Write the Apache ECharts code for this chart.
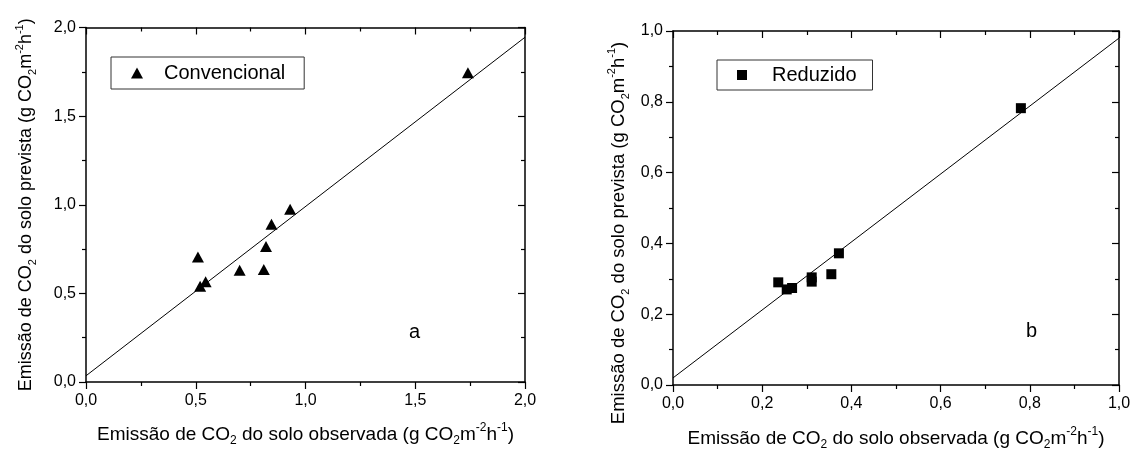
<!DOCTYPE html>
<html>
<head>
<meta charset="utf-8">
<script src="https://cdn.jsdelivr.net/npm/echarts@6/dist/echarts.min.js"></script>
<style>
html,body{margin:0;padding:0;background:#fff;}
#chart{width:1134px;height:456px;}
</style>
</head>
<body>
<div id="chart"></div>
<script>
// ---- data ----
const convObs  = [0.51, 0.52, 0.545, 0.70, 0.81, 0.82, 0.845, 0.93, 1.74];
const convPred = [0.705, 0.54, 0.565, 0.63, 0.635, 0.765, 0.89, 0.975, 1.745];
const convFitX = [0, 2];
const convFitY = [0.035, 1.945];

const redObs  = [0.236, 0.255, 0.267, 0.311, 0.311, 0.355, 0.372, 0.78];
const redPred = [0.29, 0.27, 0.274, 0.304, 0.292, 0.313, 0.372, 0.782];
const redFitX = [0, 1];
const redFitY = [0.02, 0.98];

const seriesNames = ['Convencional', 'Reduzido'];
const panelLetters = ['a', 'b'];
const xTitle = '{n|Emissão de CO}{sub|2}{n| do solo observada (g CO}{sub|2}{n|m}{sup|-2}{n|h}{sup|-1}{n|)}';
const yTitle = '{n|Emissão de CO}{sub|2}{n| do solo prevista (g CO}{sub|2}{n|m}{sup|-2}{n|h}{sup|-1}{n|)}';

// ---- chart ----
const FONT = '"Liberation Sans", Arial, sans-serif';
const zip = (a, b) => a.map((v, i) => [v, b[i]]);
const fmt = v => v.toFixed(1).replace('.', ',');
function mkRich(size) {
  const s = Math.round(size * 0.62);
  return {
    n:   {fontSize: size, fontFamily: FONT, fill: '#000', color: '#000', lineHeight: size + 6},
    sub: {fontSize: s, fontFamily: FONT, fill: '#000', color: '#000', lineHeight: s, verticalAlign: 'bottom'},
    sup: {fontSize: s, fontFamily: FONT, fill: '#000', color: '#000', lineHeight: s, verticalAlign: 'top'}
  };
}
const lineStyle = {color: '#000', width: 1.5};

function mkAxes(kind, gridIndex, max, interval, nameGap, nameSize, name) {
  const isX = kind === 'x';
  const main = {
    type: 'value', gridIndex, min: 0, max, interval,
    position: isX ? 'bottom' : 'left',
    name: name,
    nameLocation: 'middle', nameGap, nameRotate: isX ? 0 : 90,
    nameTextStyle: {rich: mkRich(nameSize)},
    axisLine: {show: true, onZero: false, lineStyle},
    axisTick: {show: true, inside: false, length: 7, lineStyle: {color: '#000', width: 1.2}},
    minorTick: {show: true, splitNumber: 2, length: 4, lineStyle: {color: '#000', width: 1.2}},
    axisLabel: {show: true, formatter: fmt, fontSize: 16, fontFamily: FONT, color: '#000',
                margin: isX ? 11 : 10, showMaxLabel: true, showMinLabel: true},
    splitLine: {show: false}
  };
  const mirror = {
    type: 'value', gridIndex, min: 0, max, interval,
    position: isX ? 'top' : 'right',
    axisLine: {show: true, onZero: false, lineStyle},
    axisTick: {show: true, inside: true, length: 7, lineStyle: {color: '#000', width: 1.2}},
    minorTick: {show: true, splitNumber: 2, length: 4, lineStyle: {color: '#000', width: 1.2}},
    axisLabel: {show: false},
    splitLine: {show: false}
  };
  return [main, mirror];
}

const chart = echarts.init(document.getElementById('chart'), null, {renderer: 'canvas'});
const option = {
  backgroundColor: '#fff',
  animation: false,
  textStyle: {fontFamily: FONT},
  grid: [
    {left: 86, top: 27.5, width: 439, height: 354.5},
    {left: 673, top: 31, width: 446, height: 360}
  ],
  xAxis: [
    ...mkAxes('x', 0, 2, 0.5, 40, 19, xTitle),
    ...mkAxes('x', 1, 1, 0.2, 41, 19, xTitle)
  ],
  yAxis: [
    ...mkAxes('y', 0, 2, 0.5, 48, 18, yTitle),
    ...mkAxes('y', 1, 1, 0.2, 42, 18.5, '')
  ],
  legend: [
    {
      data: [seriesNames[0]], left: 111, top: 57, orient: 'horizontal',
      icon: 'triangle', itemWidth: 12, itemHeight: 11,
      padding: [6, 19, 6, 20], borderColor: '#333', borderWidth: 1,
      textStyle: {fontSize: 20, fontFamily: FONT, color: '#000', padding: [0, 0, 0, 16]},
      selectedMode: false
    },
    {
      data: [seriesNames[1]], left: 717, top: 60, orient: 'horizontal',
      icon: 'rect', itemWidth: 10, itemHeight: 10,
      padding: [5, 16, 5, 20], borderColor: '#333', borderWidth: 1,
      textStyle: {fontSize: 20, fontFamily: FONT, color: '#000', padding: [0, 0, 0, 20]},
      selectedMode: false
    }
  ],
  graphic: [
    {type: 'text', left: 409, top: 322, style: {text: panelLetters[0], fontSize: 20, fontFamily: FONT, fill: '#000'}},
    {type: 'text', left: 1026, top: 321, style: {text: panelLetters[1], fontSize: 20, fontFamily: FONT, fill: '#000'}},
    {type: 'text', x: 619, y: 233, rotation: Math.PI / 2,
     style: {text: yTitle, rich: mkRich(18.5), align: 'center', verticalAlign: 'middle', fill: '#000'}}
  ],
  series: [
    {
      type: 'line', xAxisIndex: 0, yAxisIndex: 0, data: zip(convFitX, convFitY),
      showSymbol: false, symbol: 'none', lineStyle: {color: '#000', width: 1}, silent: true, z: 1
    },
    {
      name: seriesNames[0], type: 'scatter', xAxisIndex: 0, yAxisIndex: 0,
      data: zip(convObs, convPred), symbol: 'triangle', symbolSize: [12, 11],
      itemStyle: {color: '#000', opacity: 1}, z: 2
    },
    {
      type: 'line', xAxisIndex: 2, yAxisIndex: 2, data: zip(redFitX, redFitY),
      showSymbol: false, symbol: 'none', lineStyle: {color: '#000', width: 1}, silent: true, z: 1
    },
    {
      name: seriesNames[1], type: 'scatter', xAxisIndex: 2, yAxisIndex: 2,
      data: zip(redObs, redPred), symbol: 'rect', symbolSize: 10,
      itemStyle: {color: '#000', opacity: 1}, z: 2
    }
  ]
};
chart.setOption(option);
</script>
</body>
</html>
